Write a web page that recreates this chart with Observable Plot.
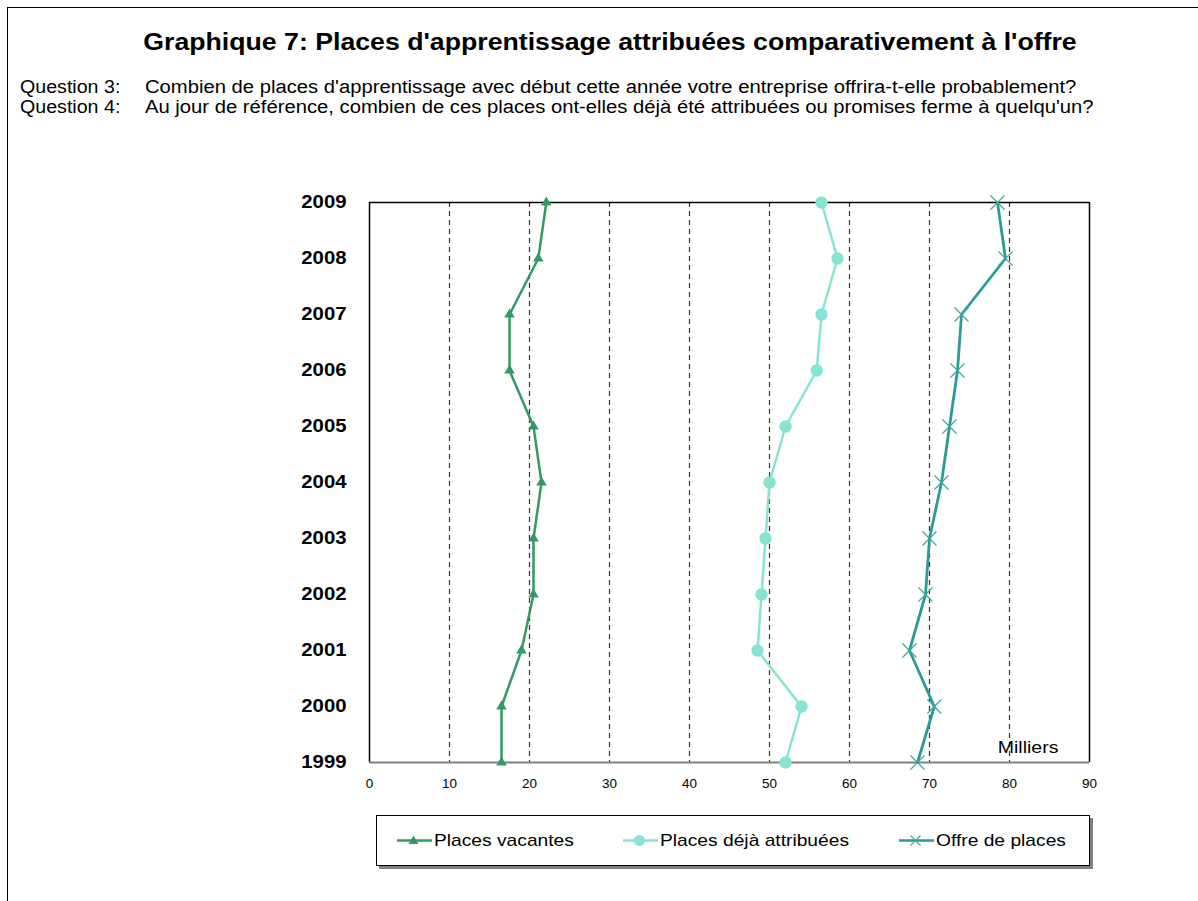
<!DOCTYPE html>
<html>
<head>
<meta charset="utf-8">
<script src="https://cdn.jsdelivr.net/npm/d3@7"></script>
<script src="https://cdn.jsdelivr.net/npm/@observablehq/plot@0.6"></script>
<style>
  html, body { margin: 0; padding: 0; background: #fff; }
  body { width: 1198px; height: 901px; overflow: hidden; position: relative; font-family: "Liberation Sans", Arial, Helvetica, sans-serif; color: #000; }
  #frame { position: absolute; left: 7px; top: 7px; width: 1200px; height: 920px; border-top: 1.5px solid #000; border-left: 1.5px solid #000; box-sizing: border-box; }
  #title { position: absolute; left: 11px; width: 1198px; top: 29px; text-align: center; font-weight: bold; font-size: 23px; transform: scaleX(1.16); transform-origin: 599px 0; white-space: nowrap; }
  .q { position: absolute; left: 20px; font-size: 18px; white-space: nowrap; transform: scaleX(1.09); transform-origin: 0 0; }
  .qt { position: absolute; left: 145px; font-size: 18px; white-space: nowrap; transform: scaleX(1.124); transform-origin: 0 0; }
  #chart { position: absolute; left: 0; top: 150px; }
  #chart svg { overflow: visible; }
  #legend { position: absolute; left: 376px; top: 815px; width: 714px; height: 51px; border: 1px solid #000; box-sizing: border-box; box-shadow: 3px 3px 0 #808080; font-size: 17px; }
  .item { position: absolute; top: 0; height: 49px; display: flex; align-items: center; white-space: nowrap; }
  .item span { display: inline-block; transform: scaleX(1.13); transform-origin: 0 50%; }
  .item svg { margin-right: 2px; }
</style>
</head>
<body>
<div id="frame"></div>
<div id="title">Graphique 7: Places d'apprentissage attribuées comparativement à l'offre</div>
<div class="q" style="top:77px">Question 3:</div>
<div class="qt" style="top:77px">Combien de places d'apprentissage avec début cette année votre entreprise offrira-t-elle probablement?</div>
<div class="q" style="top:97px">Question 4:</div>
<div class="qt" style="top:97px">Au jour de référence, combien de ces places ont-elles déjà été attribuées ou promises ferme à quelqu'un?</div>
<div id="chart"></div>
<div id="legend"></div>
<script>
const years = [1999, 2000, 2001, 2002, 2003, 2004, 2005, 2006, 2007, 2008, 2009];
const vacantes = [16.5, 16.5, 19.0, 20.5, 20.5, 21.5, 20.5, 17.5, 17.5, 21.1, 22.1];
const attribuees = [52.0, 54.0, 48.5, 49.0, 49.5, 50.0, 52.0, 55.9, 56.5, 58.5, 56.5];
const offre = [68.5, 70.6, 67.5, 69.5, 70.0, 71.5, 72.5, 73.5, 74.0, 79.5, 78.5];
const xTicks = [0, 10, 20, 30, 40, 50, 60, 70, 80, 90];
const gridTicks = [10, 20, 30, 40, 50, 60, 70, 80];
const seriesNames = ["Places vacantes", "Places déjà attribuées", "Offre de places"];
const colors = ["#339966", "#88E4D2", "#2E9A94"];
const crossColor = "#3AA8A0";

const rows = (vals) => years.map((y, i) => ({year: y, value: vals[i]}));
const dv = rows(vacantes), da = rows(attribuees), dof = rows(offre);

const chart = Plot.plot({
  width: 1198,
  height: 660,
  marginTop: 52,
  marginBottom: 48,
  marginLeft: 369,
  marginRight: 109,
  style: {fontFamily: '"Liberation Sans", Arial, Helvetica, sans-serif', color: "#000", background: "transparent"},
  x: {domain: [0, 90], label: null},
  y: {domain: [1999, 2009], label: null},
  marks: [
    Plot.ruleX(gridTicks, {stroke: "#333", strokeWidth: 1.2, strokeDasharray: "5,4"}),
    Plot.ruleX([0, 90], {stroke: "#000", strokeWidth: 1.5}),
    Plot.ruleY([2009], {stroke: "#000", strokeWidth: 1.5}),
    Plot.ruleY([1999], {stroke: "#808080", strokeWidth: 2}),
    Plot.line(dv, {x: "value", y: "year", stroke: colors[0], strokeWidth: 2.5}),
    Plot.dot(dv, {x: "value", y: "year", symbol: "triangle", r: 3.9, fill: colors[0], stroke: "none"}),
    Plot.line(da, {x: "value", y: "year", stroke: colors[1], strokeWidth: 2.5}),
    Plot.dot(da, {x: "value", y: "year", symbol: "circle", r: 6.2, fill: colors[1], stroke: "none"}),
    Plot.line(dof, {x: "value", y: "year", stroke: colors[2], strokeWidth: 2.8}),
    Plot.dot(dof, {x: "value", y: "year", symbol: "times", r: 6.4, stroke: crossColor, strokeWidth: 1.2, fill: "none"}),
    Plot.text(["Milliers"], {frameAnchor: "bottom-right", dx: -31, dy: -10, lineAnchor: "bottom", textAnchor: "end", fontSize: 17}),
    Plot.axisX({ticks: xTicks, tickSize: 0, tickPadding: 17, fontSize: 12.5}),
    Plot.axisY({ticks: years, tickFormat: d => String(d), tickSize: 0, tickPadding: 23, fontSize: 18, fontWeight: "bold"})
  ]
});
document.getElementById("chart").appendChild(chart);

// Horizontal stretch of text, around each label's own anchor
function stretch(selector, s) {
  chart.querySelectorAll(selector).forEach(t => {
    const x = t.getAttribute("x") || 0, y = t.getAttribute("y") || 0;
    const tr = t.getAttribute("transform") || "";
    t.removeAttribute("x");
    t.setAttribute("transform", tr + " translate(" + x + "," + (isNaN(+y) ? 0 : y) + ") scale(" + s + ",1)");
    if (isNaN(+y)) t.setAttribute("y", y); else t.removeAttribute("y");
  });
}
stretch('[aria-label="y-axis tick label"] text', 1.13);
stretch('[aria-label="x-axis tick label"] text', 1.08);
stretch('[aria-label="text"] text', 1.15);

// Legend
const legend = document.getElementById("legend");
const markerSvg = [
  '<polygon points="16.5,1.5 21.5,10 11.5,10" fill="' + colors[0] + '"/>',
  '<circle cx="16.5" cy="6.5" r="5.5" fill="' + colors[1] + '"/>',
  '<path d="M11.5,1.5L21.5,11.5M21.5,1.5L11.5,11.5" stroke="' + crossColor + '" stroke-width="1.1" fill="none"/>'
];
const itemLeft = [20, 246, 522];
seriesNames.forEach((name, i) => {
  const item = document.createElement("div");
  item.className = "item";
  item.style.left = itemLeft[i] + "px";
  item.innerHTML = '<svg width="35" height="13" viewBox="0 0 35 13"><line x1="0" y1="6.5" x2="35" y2="6.5" stroke="' + colors[i] + '" stroke-width="2.5"/>' + markerSvg[i] + '</svg><span>' + name + '</span>';
  legend.appendChild(item);
});
</script>
</body>
</html>
